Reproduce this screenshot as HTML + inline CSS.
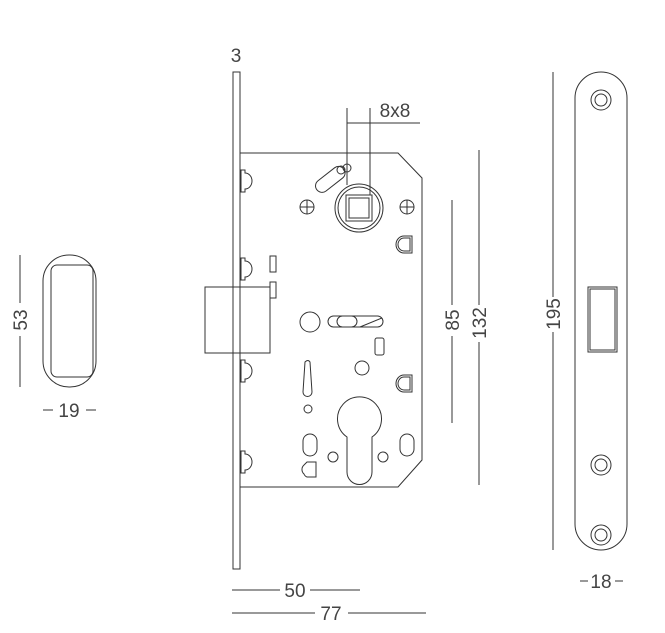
<!DOCTYPE html>
<html><head><meta charset="utf-8"><style>
html,body{margin:0;padding:0;background:#fff;}
svg{display:block}
text{font-family:"Liberation Sans Narrow","Liberation Sans",sans-serif;fill:#444;font-size:19px}
</style></head><body>
<svg width="665" height="633" viewBox="0 0 665 633" xmlns="http://www.w3.org/2000/svg">
<g fill="none" stroke="#333" stroke-width="1">
<!-- handle -->
<rect x="43" y="255" width="53" height="132" rx="26" ry="26"/>
<rect x="51" y="265" width="42" height="112" rx="6"/>
<line x1="20" y1="255" x2="20" y2="303"/>
<line x1="20" y1="336" x2="20" y2="387"/>
<line x1="43" y1="410" x2="53" y2="410"/>
<line x1="86" y1="410" x2="96" y2="410"/>
<!-- faceplate -->
<rect x="233" y="72" width="7" height="497"/>
<!-- bolt -->
<rect x="205" y="287" width="65" height="66"/>
<!-- case -->
<path d="M240 153 H398 L422 178 V460 L398 487 H240"/>
<!-- catches -->
<g>
<path d="M241 170 h4 v3 a7 8 0 0 1 0 16 v3 h-4 z"/>
<path d="M241 258 h4 v3 a7 8 0 0 1 0 16 v3 h-4 z"/>
<path d="M241 360 h4 v3 a7 8 0 0 1 0 16 v3 h-4 z"/>
<path d="M241 451 h4 v3 a7 8 0 0 1 0 16 v3 h-4 z"/>
</g>
<rect x="270" y="256" width="6" height="16"/>
<rect x="270" y="282" width="6" height="16"/>
<!-- 8x8 -->
<line x1="347" y1="108" x2="347" y2="185"/>
<line x1="370" y1="108" x2="370" y2="195"/>
<line x1="347" y1="123" x2="420" y2="123"/>
<!-- spindle -->
<circle cx="359" cy="208" r="24"/>
<circle cx="359" cy="208" r="21"/>
<rect x="346" y="195" width="26" height="26"/>
<rect x="349" y="198" width="20" height="20"/>
<!-- slanted slot -->
<rect x="313" y="173" width="34" height="13" rx="6.5" transform="rotate(-38 330 179)"/>
<circle cx="341" cy="170" r="4"/>
<circle cx="347" cy="168" r="4"/>
<!-- crosshairs -->
<circle cx="307" cy="207" r="7"/>
<path d="M300 207 h14 M307 200 v14"/>
<circle cx="407" cy="207" r="7"/>
<path d="M400 207 h14 M407 200 v14"/>
<!-- D shapes -->
<path d="M412 236 v17 h-8 a8 8.5 0 0 1 0 -17 z"/>
<path d="M410 238 v13 h-6 a6 6.5 0 0 1 0 -13 z"/>
<path d="M412 375 v17 h-8 a8 8.5 0 0 1 0 -17 z"/>
<path d="M410 377 v13 h-6 a6 6.5 0 0 1 0 -13 z"/>
<!-- mid parts -->
<circle cx="310" cy="322" r="10"/>
<rect x="328" y="316" width="55" height="11" rx="5.5"/>
<rect x="337" y="316" width="20" height="11" rx="5.5"/>
<path d="M360 327 L382 318"/>
<rect x="375" y="338" width="9" height="17" rx="2"/>
<circle cx="362" cy="368" r="7"/>
<path d="M305 362 q3 -3 5 0 l2 30 a4 4 0 0 1 -9 0 z"/>
<circle cx="308" cy="409" r="4"/>
<!-- cylinder -->
<path d="M347 437 A22 22 0 1 1 372 437 V472 A12.5 12.5 0 0 1 347 472 Z"/>
<rect x="303" y="434" width="14" height="22" rx="7"/>
<rect x="400" y="434" width="14" height="22" rx="7"/>
<circle cx="333" cy="457" r="5"/>
<circle cx="383" cy="457" r="5"/>
<path d="M307 462 h9 v15 h-9 a5 5 0 0 1 -3 -3 a6 6 0 0 1 0 -9 z"/>
<!-- dims right -->
<line x1="452" y1="200" x2="452" y2="305"/>
<line x1="452" y1="336" x2="452" y2="423"/>
<line x1="479" y1="150" x2="479" y2="305"/>
<line x1="479" y1="342" x2="479" y2="485"/>
<!-- dims bottom -->
<line x1="232" y1="590" x2="280" y2="590"/>
<line x1="310" y1="590" x2="360" y2="590"/>
<line x1="232" y1="613" x2="315" y2="613"/>
<line x1="348" y1="613" x2="426" y2="613"/>
<!-- strike -->
<rect x="575" y="72" width="52" height="478" rx="26" ry="26"/>
<circle cx="601" cy="100" r="10"/><circle cx="601" cy="100" r="6"/>
<circle cx="601" cy="465" r="10"/><circle cx="601" cy="465" r="6"/>
<circle cx="601" cy="535" r="10"/><circle cx="601" cy="535" r="6"/>
<rect x="588" y="287" width="29" height="65"/>
<rect x="590" y="289" width="25" height="61"/>
<line x1="553" y1="72" x2="553" y2="297"/>
<line x1="553" y1="332" x2="553" y2="550"/>
<line x1="580" y1="581" x2="588" y2="581"/>
<line x1="615" y1="581" x2="623" y2="581"/>
</g>
<text x="236" y="62" text-anchor="middle">3</text>
<text x="395" y="117" text-anchor="middle">8x8</text>
<text x="69" y="417" text-anchor="middle">19</text>
<text x="601" y="588" text-anchor="middle">18</text>
<text x="295" y="597" text-anchor="middle">50</text>
<text x="331" y="620" text-anchor="middle">77</text>
<text transform="translate(27 320) rotate(-90)" text-anchor="middle">53</text>
<text transform="translate(459 320) rotate(-90)" text-anchor="middle">85</text>
<text transform="translate(486 323) rotate(-90)" text-anchor="middle">132</text>
<text transform="translate(560 314) rotate(-90)" text-anchor="middle">195</text>
</svg>
</body></html>
